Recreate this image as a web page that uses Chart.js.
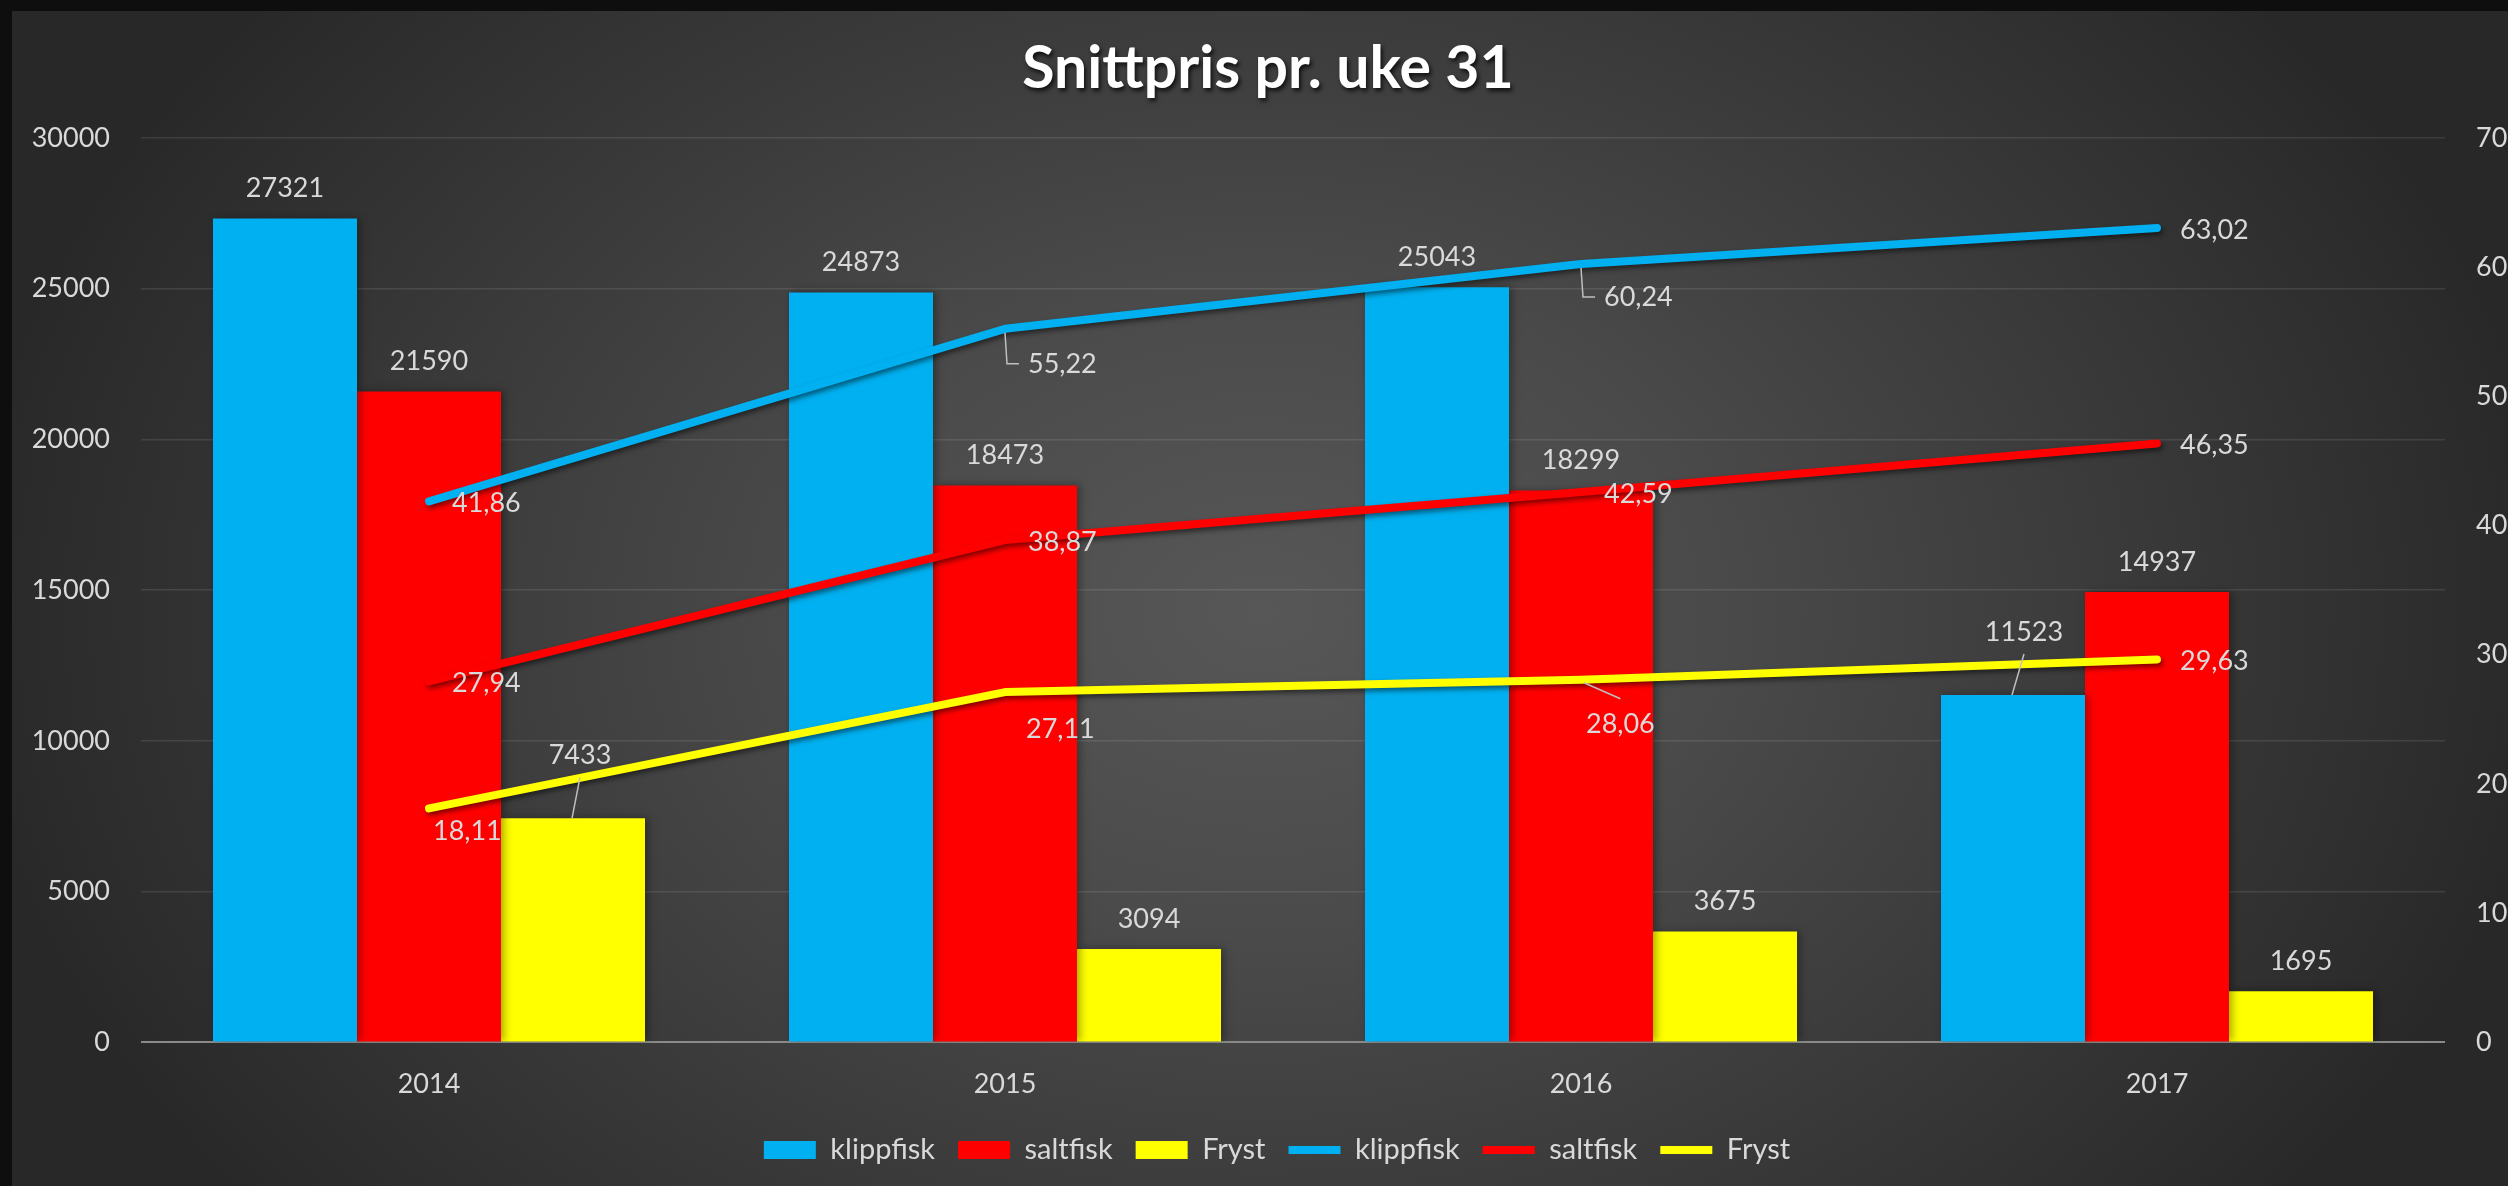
<!DOCTYPE html>
<html><head><meta charset="utf-8">
<script src="https://cdn.jsdelivr.net/npm/chart.js@4.4.1/dist/chart.umd.min.js"></script>
<style>
html,body{margin:0;padding:0;background:#0e0e0e;width:2508px;height:1186px;overflow:hidden}
#panel{position:absolute;left:12px;top:11px;width:2496px;height:1175px;
background:radial-gradient(ellipse 1300px 950px at 1250px 600px,#575757 0%,#4a4a4a 35%,#2b2b2b 95%,#282828 100%)}
#wrap{position:absolute;left:0;top:0;width:2508px;height:1186px}
</style></head><body>
<div id="panel"></div>
<div id="wrap"><canvas id="c" width="2508" height="1186"></canvas></div>
<script>
// ---- data ----
const categories = ['2014', '2015', '2016', '2017'];
const seriesNames = ['klippfisk', 'saltfisk', 'Fryst'];
const klippfiskVolume = [27321, 24873, 25043, 11523];
const saltfiskVolume = [21590, 18473, 18299, 14937];
const frystVolume = [7433, 3094, 3675, 1695];
const klippfiskPrice = [41.86, 55.22, 60.24, 63.02];
const saltfiskPrice = [27.94, 38.87, 42.59, 46.35];
const frystPrice = [18.11, 27.11, 28.06, 29.63];
const leftAxis = { min: 0, max: 30000, step: 5000 };
const rightAxis = { min: 0, max: 70, step: 10 };
const titleText = 'Snittpris pr. uke 31';

// ---- label placement (pixel nudges relative to each mark) ----
const barLabelNudge = [
  [[0, -30], [0, -30], [0, -30], [11, -63]],
  [[0, -30], [0, -30], [0, -30], [0, -30]],
  [[7, -63], [0, -30], [0, -30], [0, -30]]
];
const lineLabelNudge = [
  [[23, 2], [23, 35], [23, 33], [23, 2]],
  [[23, 2], [23, 2], [23, 2], [23, 2]],
  [[4, 23], [21, 37], [5, 45], [23, 2]]
];
const lineLeader = [
  [null, 'L', 'L', null],
  [null, null, null, null],
  [null, null, 'diag', null]
];

const colors = ['#00b0f0', '#ff0000', '#ffff00'];
const volumes = [klippfiskVolume, saltfiskVolume, frystVolume];
const prices = [klippfiskPrice, saltfiskPrice, frystPrice];

const fmtPrice = v => v.toFixed(2).replace('.', ',');

const datasets = [];
volumes.forEach((d, i) => datasets.push({
  type: 'bar', label: seriesNames[i], data: d, backgroundColor: colors[i],
  borderWidth: 0, yAxisID: 'y', order: 2, categoryPercentage: 0.75, barPercentage: 1
}));
prices.forEach((d, i) => datasets.push({
  type: 'line', label: seriesNames[i], data: d, borderColor: colors[i], backgroundColor: colors[i],
  borderWidth: 8, pointRadius: 0, pointHoverRadius: 0, borderCapStyle: 'round', borderJoinStyle: 'round',
  tension: 0, fill: false, yAxisID: 'y1', order: 1
}));

const shadowPlugin = {
  id: 'shadows',
  beforeDatasetDraw(chart, args) {
    const ctx = chart.ctx; ctx.save();
    const ds = chart.data.datasets[args.index];
    if (ds.type === 'line') {
      ctx.shadowColor = 'rgba(0,0,0,0.5)'; ctx.shadowBlur = 5; ctx.shadowOffsetX = 2; ctx.shadowOffsetY = 3;
    } else {
      ctx.shadowColor = 'rgba(0,0,0,0.35)'; ctx.shadowBlur = 8; ctx.shadowOffsetX = 3; ctx.shadowOffsetY = 0;
    }
  },
  afterDatasetDraw(chart) { chart.ctx.restore(); }
};

const boxTweaks = {
  id: 'boxTweaks',
  afterLayout(chart) {
    const tb = chart.titleBlock;
    if (tb && !tb._wrapped) {
      const orig = tb.draw.bind(tb);
      tb.draw = function () {
        const c = chart.ctx; c.save(); c.translate(14, 0);
        c.shadowColor = 'rgba(0,0,0,0.75)'; c.shadowBlur = 4; c.shadowOffsetX = 2; c.shadowOffsetY = 3;
        orig(); c.restore();
      };
      tb._wrapped = true;
    }
    const lg = chart.legend;
    if (lg && !lg._wrapped) {
      const origL = lg.draw.bind(lg);
      lg.draw = function () {
        const c = chart.ctx; c.save(); c.translate(23, 0); origL(); c.restore();
      };
      lg._wrapped = true;
    }
  }
};

const labelPlugin = {
  id: 'valueLabels',
  afterDatasetsDraw(chart) {
    const ctx = chart.ctx;
    ctx.save();
    ctx.font = '27px Lato';
    ctx.fillStyle = '#d9d9d9';
    ctx.strokeStyle = '#bfbfbf';
    ctx.lineWidth = 1.5;
    ctx.textBaseline = 'middle';
    chart.data.datasets.forEach((ds, di) => {
      const meta = chart.getDatasetMeta(di);
      meta.data.forEach((el, i) => {
        const v = ds.data[i];
        if (ds.type === 'bar') {
          const [dx, dy] = barLabelNudge[di][i];
          const lx = el.x + dx, ly = el.y + dy;
          ctx.textAlign = 'center';
          ctx.fillText(String(v), lx, ly);
          if (dy < -40) {
            ctx.beginPath(); ctx.moveTo(el.x - 1, el.y); ctx.lineTo(lx, ly + 22); ctx.stroke();
          }
        } else {
          const li = di - 3;
          const [dx, dy] = lineLabelNudge[li][i];
          const lx = el.x + dx, ly = el.y + dy;
          ctx.textAlign = 'left';
          const t = fmtPrice(v);
          ctx.fillText(t, lx, ly);
          const lead = lineLeader[li][i];
          if (lead === 'L') {
            ctx.beginPath(); ctx.moveTo(el.x, el.y + 4); ctx.lineTo(el.x + 2, ly); ctx.lineTo(lx - 9, ly); ctx.stroke();
          } else if (lead === 'diag') {
            const w = ctx.measureText(t).width;
            ctx.beginPath(); ctx.moveTo(el.x + 3, el.y + 3); ctx.lineTo(lx + w / 2, ly - 26); ctx.stroke();
          }
        }
      });
    });
    ctx.restore();
  }
};

function build() {
  Chart.defaults.font.family = 'Lato';
  new Chart(document.getElementById('c'), {
    type: 'bar',
    data: { labels: categories, datasets },
    options: {
      responsive: false, animation: false, devicePixelRatio: 1,
      layout: { padding: { left: 0, right: 0, top: 0, bottom: 11.6 } },
      plugins: {
        title: { display: true, text: titleText, color: '#ffffff',
          font: { family: 'Lato', size: 59, weight: 'bold' }, padding: { top: 34, bottom: 33 } },
        legend: {
          position: 'bottom',
          labels: {
            usePointStyle: true, pointStyleWidth: 52, boxHeight: 18, padding: 23,
            color: '#d9d9d9', font: { family: 'Lato', size: 29 },
            sort: (a, b) => a.datasetIndex - b.datasetIndex,
            generateLabels(chart) {
              const items = Chart.defaults.plugins.legend.labels.generateLabels(chart);
              items.forEach(it => {
                const ds = chart.data.datasets[it.datasetIndex];
                it.pointStyle = ds.type === 'line' ? 'line' : 'rect';
                if (ds.type === 'bar') { it.lineWidth = 0; }
                it.fontColor = '#d9d9d9';
              });
              return items;
            }
          }
        },
        tooltip: { enabled: false }
      },
      scales: {
        x: {
          grid: { display: false, drawTicks: false }, border: { display: false },
          ticks: { color: '#d9d9d9', font: { family: 'Lato', size: 27 }, padding: 26 },
          afterFit: s => { s.height = 70; }
        },
        y: {
          position: 'left', min: leftAxis.min, max: leftAxis.max,
          ticks: { stepSize: leftAxis.step, color: '#d9d9d9', font: { family: 'Lato', size: 27 }, padding: 31,
            callback: v => String(v) },
          grid: { drawTicks: false,
            color: c => c.tick && c.tick.value === 0 ? '#8a8a8a' : 'rgba(255,255,255,0.10)',
            lineWidth: c => c.tick && c.tick.value === 0 ? 2 : 1.5 },
          border: { display: false },
          afterFit: s => { s.width = 141; }
        },
        y1: {
          position: 'right', min: rightAxis.min, max: rightAxis.max,
          ticks: { stepSize: rightAxis.step, color: '#d9d9d9', font: { family: 'Lato', size: 27 }, padding: 31,
            callback: v => String(v) },
          grid: { display: false, drawTicks: false }, border: { display: false },
          afterFit: s => { s.width = 63; }
        }
      }
    },
    plugins: [shadowPlugin, boxTweaks, labelPlugin]
  });
}

Promise.all([
  document.fonts.load('27px Lato'),
  document.fonts.load('bold 59px Lato')
]).then(build, build);
</script>
</body></html>
